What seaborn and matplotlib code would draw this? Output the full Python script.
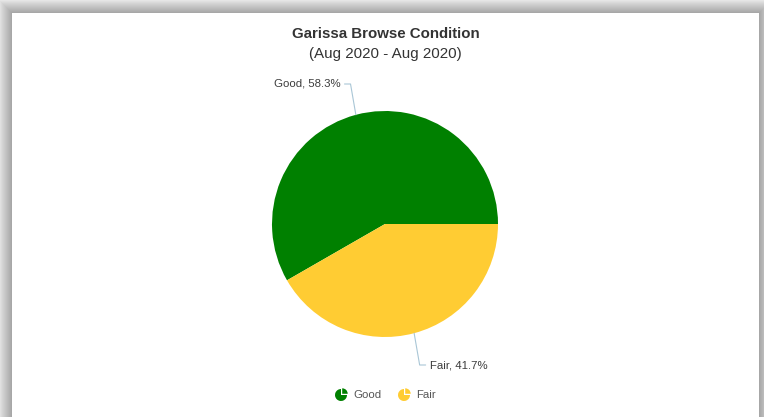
import numpy as np
import matplotlib
matplotlib.use("Agg")
import matplotlib.pyplot as plt
from matplotlib.patches import Rectangle, Wedge
import seaborn as sns

sns.set_theme(style="white")
plt.rcParams['font.family'] = ['Liberation Sans', 'DejaVu Sans']

# ---- data ----
categories = ["Good", "Fair"]
values = [58.3, 41.7]
colors = ["#008000", "#FFCC33"]
title = "Garissa Browse Condition"
subtitle = "(Aug 2020 - Aug 2020)"

W, H = 764, 417
fig = plt.figure(figsize=(W / 100, H / 100), dpi=100)
fig.patch.set_facecolor("white")

# background overlay in pixel coords (y up)
bg = fig.add_axes([0, 0, 1, 1])
bg.set_xlim(0, W)
bg.set_ylim(0, H)
bg.axis("off")
bg.add_patch(Rectangle((0, 0), W, H, color="#e6e6e6", zorder=0))
for i in range(13):
    bg.add_patch(Rectangle((12 - i, -20), 747 + 2 * i, (H - 13) + 20 + i,
                           facecolor="black", alpha=0.025, lw=0, zorder=1))
bg.add_patch(Rectangle((12, -20), 747, (H - 13) + 20, facecolor="white", lw=0, zorder=2))

bg.text(385.5, H - 34, title, ha="center", va="center", fontsize=10.8,
        fontweight="bold", color="#333333", zorder=3)
bg.text(385.5, H - 54, subtitle, ha="center", va="center", fontsize=10.9,
        color="#333333", zorder=3)

# ---- pie ----
cx, cy, R = 385, 224, 113
box = 160
pax = fig.add_axes([(cx - box) / W, (H - cy - box) / H, 2 * box / W, 2 * box / H])
wedges, _ = pax.pie(values, colors=colors, startangle=0, counterclock=True,
                    wedgeprops=dict(linewidth=0))
lim = box / R
pax.set_xlim(-lim, lim)
pax.set_ylim(-lim, lim)
pax.set_aspect("equal")
pax.axis("off")

label_y = [140 / R, -141 / R]
for w, cat, val, ly in zip(wedges, categories, values, label_y):
    mid = np.deg2rad((w.theta1 + w.theta2) / 2)
    x1, y1 = np.cos(mid), np.sin(mid)
    t = (ly - y1) / np.sin(mid)
    x2 = x1 + 0.65 * t * np.cos(mid)
    y2 = ly
    side = -1 if x1 < 0 else 1
    x3 = x2 + side * 6 / R
    pax.plot([x1, x2, x3], [y1, y2, y2], color="#a9c6d6", lw=0.8, clip_on=False)
    pax.text(x3 + side * 4 / R, y2, f"{cat}, {val}%", ha="left" if side > 0 else "right",
             va="center", fontsize=8.2, color="#3c3c3c", clip_on=False)

# ---- legend ----
leg_x = [341, 404]
text_x = [353, 416]
ly = H - 395
for c, cat, ix, tx in zip(colors, categories, leg_x, text_x):
    bg.add_patch(Wedge((ix, ly), 6, 90, 360, color=c, lw=0, zorder=3))
    bg.add_patch(Wedge((ix + 1.2, ly + 1.2), 5.5, 0, 90, color=c, lw=0, zorder=3))
    bg.text(tx, ly, cat, ha="left", va="center", fontsize=8.2, color="#555555", zorder=3)

fig.savefig("out.png", dpi=100)
